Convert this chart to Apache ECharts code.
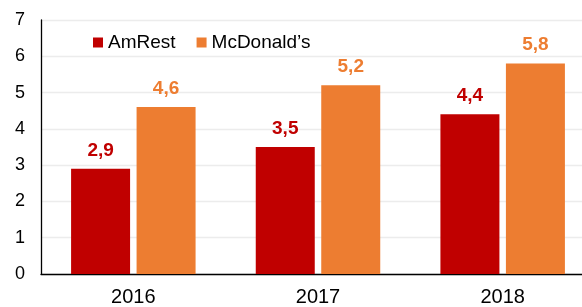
<!DOCTYPE html>
<html>
<head>
<meta charset="utf-8">
<script src="https://cdn.jsdelivr.net/npm/echarts@6/dist/echarts.min.js"></script>
<style>
  html, body { margin: 0; padding: 0; background: #fff; }
  #chart { width: 582px; height: 307px; }
</style>
</head>
<body>
<div id="chart"></div>
<script>
// data
var years = ['2016', '2017', '2018']
var amrest = [2.9, 3.5, 4.4]
var mcdonalds = [4.6, 5.2, 5.8]
var seriesNames = ['AmRest', 'McDonald\u2019s']
var colors = ['#C00000', '#ED7D31']

var chart = echarts.init(document.getElementById('chart'))

function label(color) {
  return {
    show: true,
    position: 'top',
    distance: 9,
    color: color,
    fontFamily: 'Liberation Sans, Arial, sans-serif',
    fontWeight: 'bold',
    fontSize: 19,
    formatter: function (p) {
      return String(p.value).replace('.', ',')
    }
  }
}

chart.setOption({
  animation: false,
  color: colors,
  textStyle: { fontFamily: 'Liberation Sans, Arial, sans-serif' },
  legend: {
    left: 88,
    top: 28,
    icon: 'rect',
    itemWidth: 10,
    itemHeight: 10,
    itemGap: 21,
    textStyle: { fontSize: 19, color: '#000' },
    data: seriesNames
  },
  // plot runs past the right edge, the picture is cropped there
  grid: {
    left: 41,
    width: 554,
    top: 20,
    bottom: 33,
    containLabel: false,
    outerBoundsMode: 'none'
  },
  xAxis: {
    type: 'category',
    data: years,
    axisLine: { lineStyle: { color: '#000', width: 1.3 } },
    axisTick: { show: false },
    axisLabel: { fontSize: 20, color: '#000', margin: 13 }
  },
  yAxis: {
    type: 'value',
    min: 0,
    max: 7,
    interval: 1,
    axisLine: { show: true, lineStyle: { color: '#000', width: 1.3 } },
    axisTick: { show: false },
    axisLabel: { fontSize: 18, color: '#000', margin: 16 },
    splitLine: { lineStyle: { color: '#ececec', width: 1.3 } }
  },
  series: [
    {
      name: seriesNames[0],
      type: 'bar',
      data: amrest,
      barWidth: 59,
      barGap: '11%',
      label: label(colors[0])
    },
    {
      name: seriesNames[1],
      type: 'bar',
      data: mcdonalds,
      barWidth: 59,
      barGap: '11%',
      label: label(colors[1])
    }
  ]
})
</script>
</body>
</html>
